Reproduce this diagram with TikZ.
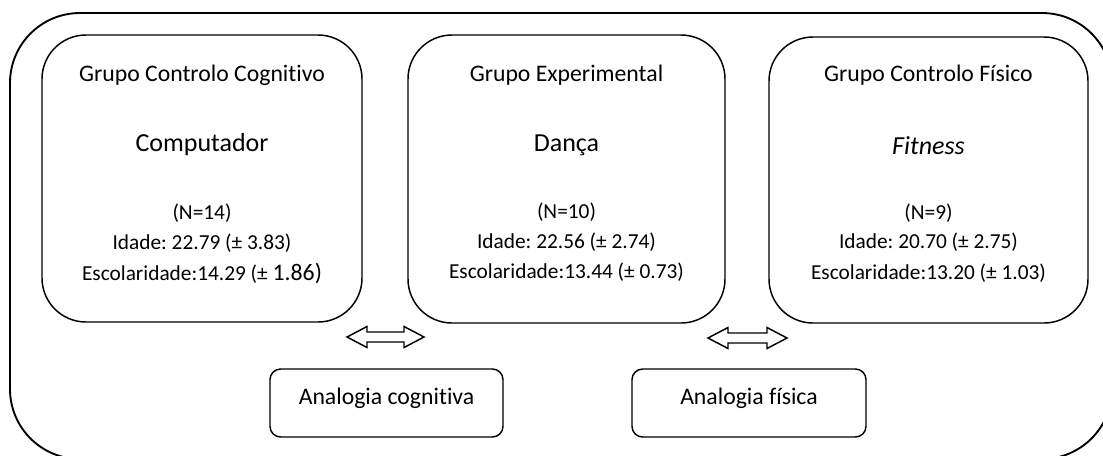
\documentclass[tikz,border=0pt]{standalone}
\usepackage{fontspec}
\setmainfont{Carlito}[Ligatures=NoCommon]
\usetikzlibrary{calc}
\frenchspacing
\begin{document}
\begin{tikzpicture}[x=0.75pt,y=-0.75pt,
  outerbox/.style={draw,line width=1.4pt,rounded corners=52.5pt,inner sep=0pt},
  grpbox/.style={draw,line width=1.1pt,rounded corners=33pt,inner sep=0pt},
  anbox/.style={draw,line width=1.1pt,rounded corners=8pt,inner sep=0pt,minimum height=51pt},
  ttl/.style={inner sep=0pt,font=\fontsize{17.8}{21}\selectfont},
  big/.style={inner sep=0pt,font=\fontsize{19.5}{23}\selectfont},
  dat/.style={inner sep=0pt,font=\fontsize{16}{19}\selectfont},
  harrow/.style={draw,line width=1.1pt,fill=white}]
\useasboundingbox (0,0) rectangle (1103,455);
\clip (0,0) rectangle (1103,455);
% outer frame
\node[outerbox,minimum width=826.5pt,minimum height=334.5pt] (outer) at (561,236) {};
% group boxes
\node[grpbox,minimum width=240pt,minimum height=215.25pt] (b1) at (202,178.5) {};
\node[grpbox,minimum width=237.75pt,minimum height=216pt] (b2) at (566.5,179) {};
\node[grpbox,minimum width=239.25pt,minimum height=214.5pt] (b3) at (928.5,180) {};
% analogy boxes
\node[anbox,minimum width=174.75pt] (ac) at (386.5,403) {};
\node[anbox,minimum width=175.5pt] (af) at (749,403) {};
\node[ttl] (act) at (386.5,398) {Analogia cognitiva};
\node[ttl] (aft) at (749,398) {Analogia física};
% box 1 texts
\node[ttl] (t1) at (202,75) {Grupo Controlo Cognitivo};
\node[big] (m1) at (202,145) {Computador};
\node[dat] (n1) at (202,213) {(N=14)};
\node[dat] (i1) at (202,243) {Idade: 22.79 (± 3.83)};
\node[dat] (e1) at (202,273) {Escolaridade:14.29 (± {\fontsize{17.8}{21}\selectfont 1.86)}};
% box 2 texts
\node[ttl] (t2) at (566.5,75) {Grupo Experimental};
\node[big] (m2) at (566.5,145) {Dança};
\node[dat] (n2) at (566.5,212) {(N=10)};
\node[dat] (i2) at (566.5,242) {Idade: 22.56 (± 2.74)};
\node[dat] (e2) at (566.5,272) {Escolaridade:13.44 (± 0.73)};
% box 3 texts
\node[ttl] (t3) at (928.5,75) {Grupo Controlo Físico};
\node[big] (m3) at (928.5,146) {\itshape Fitness};
\node[dat] (n3) at (928.5,213) {(N=9)};
\node[dat] (i3) at (928.5,242) {Idade: 20.70 (± 2.75)};
\node[dat] (e3) at (928.5,273) {Escolaridade:13.20 (± 1.03)};
% hollow double arrows
\coordinate (a1) at (385.5,337);
\coordinate (a2) at (747.5,338);
\foreach \c/\L in {a1/38.5,a2/39.5}{
  \draw[harrow] ($(\c)+(-\L,0)$) -- ++(20,-10.5) -- ++(0,5.5) -- ++({2*\L-40},0) -- ++(0,-5.5)
     -- ($(\c)+(\L,0)$) -- ++(-20,10.5) -- ++(0,-5.5) -- ++({-(2*\L-40)},0) -- ++(0,5.5) -- cycle;
}
\end{tikzpicture}
\end{document}
